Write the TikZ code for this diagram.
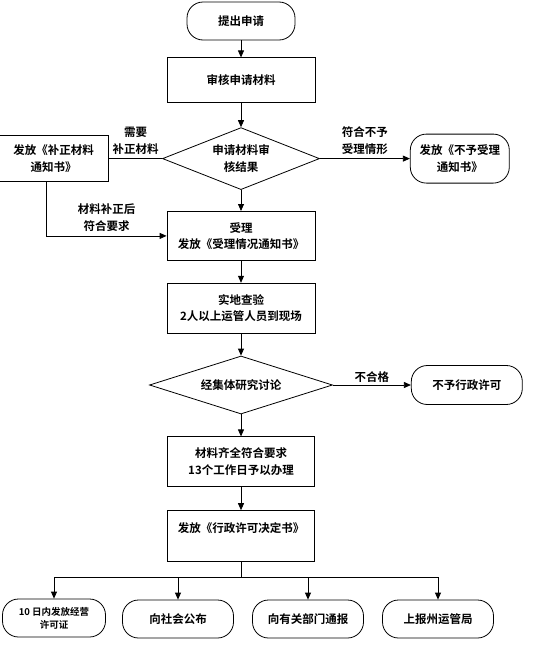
\documentclass[tikz,border=0pt]{standalone}
\usepackage{fontspec}
\setmainfont{Noto Sans CJK SC}[BoldFont={Noto Sans CJK SC Bold}]
\usetikzlibrary{arrows.meta,positioning,shapes.geometric}

\begin{document}
\begin{tikzpicture}[x=1pt, y=1pt, node distance=22pt,
  font=\fontsize{11.5}{16.5}\selectfont\bfseries,
  box/.style={rectangle, draw, line width=0.8pt, align=center, inner sep=2pt},
  term/.style={rectangle, draw, line width=0.8pt, rounded corners=16pt, align=center, inner sep=2pt},
  dec/.style={diamond, draw, line width=0.8pt, align=center, inner sep=0pt, shape aspect=2.5},
  lab/.style={align=center, inner sep=1pt},
  arr/.style={-{Triangle[length=7pt,width=6pt]}, line width=0.8pt},
  ln/.style={line width=0.8pt}]
\useasboundingbox (0,0) rectangle (535,-648);

\node[term, minimum width=108pt, minimum height=38pt] (start) at (241,-21) {提出申请};
\node[box, minimum width=148pt, minimum height=45pt, below=17pt of start] (chk) {审核申请材料};
\node[dec, minimum width=157pt, minimum height=62pt, below=24pt of chk] (res) {申请材料审\\核结果};
\node[box, minimum width=110pt, minimum height=46pt, left=53pt of res] (supp) {发放《补正材料\\通知书》};
\node[term, minimum width=99pt, minimum height=49pt, right=90pt of res] (reject) {发放《不予受理\\通知书》};
\node[box, minimum width=148pt, minimum height=49pt, below=21pt of res] (accept) {受理\\发放《受理情况通知书》};
\node[box, minimum width=148pt, minimum height=50pt, below=of accept] (site) {实地查验\\2人以上运管人员到现场};
\node[dec, minimum width=183pt, minimum height=58pt, below=of site] (talk) {经集体研究讨论};
\node[term, minimum width=111pt, minimum height=39pt, right=78pt of talk] (deny) {不予行政许可};
\node[box, minimum width=147pt, minimum height=50pt, below=of talk] (ok) {材料齐全符合要求\\13个工作日予以办理};
\node[box, minimum width=147pt, minimum height=51pt, below=23pt of ok] (issue) {发放《行政许可决定书》\\~};

\node[term, minimum width=103pt, minimum height=38pt, font=\fontsize{9.5}{13}\selectfont\bfseries] (lic) at (54,-618) {10 日内发放经营\\许可证};
\node[term, minimum width=111pt, minimum height=38pt] (pub) at (178,-619) {向社会公布};
\node[term, minimum width=111pt, minimum height=38pt] (dept) at (308,-619) {向有关部门通报};
\node[term, minimum width=111pt, minimum height=38pt] (bur) at (438,-619) {上报州运管局};
\coordinate (split) at (241,-577);

\draw[arr] (start) -- (chk);
\draw[arr] (chk) -- (res);
\draw[ln] (res.west) -- node[lab, above=3pt] {需要\\补正材料} (supp.east);
\draw[arr] (res.east) -- node[lab, above=3pt] {符合不予\\受理情形} (reject.west);
\draw[arr] ([xshift=-7pt]supp.south) |- node[lab, pos=0.75, above=3pt] {材料补正后\\符合要求} (accept.west);
\draw[arr] (res) -- (accept);
\draw[arr] (accept) -- (site);
\draw[arr] (site) -- (talk);
\draw[arr] (talk.east) -- node[lab, above=1pt] {不合格} (deny.west);
\draw[arr] (talk) -- (ok);
\draw[arr] (ok) -- (issue);
\draw[ln] (issue.south) -- (split);
\draw[arr] (split) -| (lic.north);
\draw[arr] (split) -| (pub.north);
\draw[arr] (split) -| (dept.north);
\draw[arr] (split) -| (bur.north);
\end{tikzpicture}
\end{document}
